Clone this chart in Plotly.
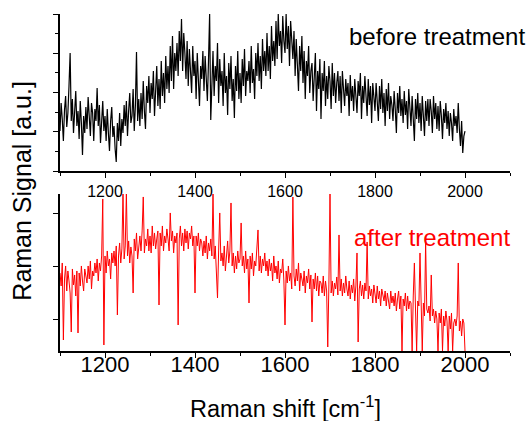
import plotly.graph_objects as go
from plotly.subplots import make_subplots

# Raman shift grid, cm^-1 (1100 ... 2000, 2.5 steps)
shift = [1100 + 2.5 * i for i in range(361)]

# signal before treatment (a.u.)
before = [
    40, 68, 52, 30, 61, 75, 44, 58, 85, 118, 50, 72, 38, 66, 80, 45,
    60, 32, 70, 48, 16, 55, 38, 64, 42, 74, 50, 35, 68, 58, 30, 62,
    50, 83, 45, 66, 28, 58, 70, 40, 55, 30, 62, 38, 20, 50, 64, 34,
    45, 22, 9, 48, 30, 58, 25, 52, 38, 66, 45, 70, 35, 60, 78, 48,
    55, 82, 40, 65, 119, 50, 72, 45, 78, 52, 90, 60, 42, 85, 68, 95,
    58, 88, 72, 100, 55, 80, 105, 65, 92, 62, 110, 75, 98, 68, 115, 82,
    105, 78, 125, 90, 135, 82, 118, 100, 128, 95, 140, 110, 152, 100, 138, 118,
    92, 130, 85, 122, 105, 78, 125, 95, 110, 72, 118, 88, 65, 105, 92, 120,
    80, 115, 95, 70, 110, 157, 51, 98, 120, 75, 105, 90, 128, 68, 112, 85,
    100, 65, 118, 78, 95, 56, 108, 82, 115, 70, 92, 53, 105, 80, 120, 72,
    98, 68, 112, 85, 122, 75, 100, 90, 110, 78, 125, 88, 102, 72, 118, 95,
    128, 90, 115, 82, 132, 100, 120, 95, 138, 100, 125, 92, 145, 110, 130, 105,
    150, 112, 157, 125, 140, 108, 155, 130, 118, 157, 122, 145, 105, 150, 128, 112,
    140, 95, 132, 110, 80, 125, 100, 135, 88, 120, 72, 110, 95, 125, 78, 100,
    108, 70, 95, 118, 60, 100, 82, 112, 52, 98, 80, 110, 65, 95, 72, 105,
    90, 62, 108, 75, 98, 68, 88, 100, 70, 95, 58, 100, 82, 65, 92, 75,
    88, 55, 96, 70, 85, 60, 92, 72, 58, 90, 75, 98, 52, 85, 68, 95,
    80, 55, 92, 66, 85, 48, 88, 72, 60, 88, 70, 50, 85, 62, 92, 58,
    78, 45, 82, 60, 88, 52, 75, 66, 50, 80, 62, 38, 78, 58, 85, 55,
    72, 48, 80, 56, 70, 42, 82, 60, 45, 75, 58, 30, 72, 52, 78, 48,
    68, 40, 75, 55, 35, 70, 50, 72, 45, 72, 60, 38, 75, 52, 68, 42,
    65, 40, 70, 55, 32, 62, 48, 68, 42, 60, 35, 58, 48, 30, 62, 45,
    55, 38, 68, 42, 25, 50, 18, 35, 40,
]

# signal after treatment (a.u.)
after = [
    78, 65, 88, 11, 72, 85, 60, 80, 70, 58, 19, 82, 66, 76, 55, 80,
    18, 78, 65, 85, 70, 60, 82, 72, 68, 85, 72, 90, 62, 80, 75, 88,
    78, 92, 70, 88, 80, 95, 152, 6, 95, 78, 100, 85, 92, 72, 98, 88,
    100, 85, 105, 36, 95, 108, 88, 102, 158, 92, 105, 158, 95, 110, 88, 104,
    95, 58, 112, 100, 118, 92, 108, 115, 100, 120, 154, 98, 112, 105, 122, 100,
    115, 98, 125, 105, 118, 102, 112, 120, 46, 118, 105, 125, 100, 115, 108, 122,
    112, 100, 138, 110, 120, 98, 115, 108, 118, 26, 112, 125, 105, 118, 100, 122,
    108, 120, 102, 118, 112, 125, 105, 115, 58, 115, 105, 118, 100, 112, 108, 95,
    110, 98, 115, 92, 108, 100, 112, 95, 157, 92, 105, 85, 53, 100, 138, 90,
    98, 85, 105, 80, 95, 110, 88, 100, 148, 85, 98, 78, 95, 82, 100, 88,
    92, 128, 85, 95, 78, 100, 82, 92, 48, 95, 82, 98, 75, 90, 85, 100,
    121, 80, 95, 78, 92, 85, 98, 80, 90, 75, 92, 80, 88, 70, 95, 78,
    85, 72, 90, 68, 82, 78, 92, 70, 26, 80, 68, 85, 70, 78, 62, 154,
    75, 65, 82, 70, 88, 60, 78, 72, 65, 80, 58, 75, 68, 82, 62, 76,
    29, 72, 62, 78, 60, 75, 55, 70, 68, 58, 75, 55, 70, 60, 4, 66,
    157, 58, 70, 55, 68, 62, 74, 56, 116, 60, 72, 55, 68, 58, 75, 62,
    55, 70, 52, 66, 58, 72, 50, 65, 98, 9, 62, 70, 55, 66, 52, 68,
    60, 109, 52, 65, 55, 62, 48, 66, 58, 48, 65, 52, 60, 45, 62, 55,
    50, 60, 45, 58, 52, 42, 60, 48, 55, 45, 58, 40, 52, 60, 42, 55,
    0, 52, 45, 58, 40, 55, 42, 50, 48, 0, 55, 88, 42, 0, 50, 45,
    98, 40, 0, 48, 35, 109, 42, 38, 45, 30, 76, 35, 42, 28, 40, 32,
    0, 38, 28, 42, 0, 35, 25, 40, 30, 0, 35, 22, 38, 0, 28, 32,
    25, 35, 88, 20, 30, 15, 32, 28, 0,
]

font = "Liberation Sans, Arial, sans-serif"

fig = make_subplots(rows=2, cols=1, vertical_spacing=0.068)

fig.add_trace(go.Scatter(x=shift, y=before, mode="lines",
                         line=dict(color="black", width=1.2)), row=1, col=1)
fig.add_trace(go.Scatter(x=shift, y=after, mode="lines",
                         line=dict(color="red", width=1)), row=2, col=1)

fig.update_xaxes(range=[1100, 2100], showline=True, linecolor="black", linewidth=1.5,
                 ticks="outside", ticklen=5, tickcolor="black", tick0=1200, dtick=200,
                 minor=dict(ticks="outside", ticklen=3, tickcolor="black", dtick=100, tick0=1100),
                 showgrid=False, zeroline=False)
fig.update_xaxes(tickfont=dict(family=font, size=16, color="black"), row=1, col=1)
fig.update_xaxes(tickfont=dict(family=font, size=22, color="black"),
                 ticklabelstandoff=-12, row=2, col=1)

fig.update_yaxes(showline=True, linecolor="black", linewidth=1.5, showgrid=False,
                 zeroline=False, showticklabels=False, ticks="outside",
                 ticklen=5, tickcolor="black")
fig.update_yaxes(range=[0, 157], tick0=0, dtick=39.25,
                 minor=dict(ticks="outside", ticklen=3, tickcolor="black", dtick=19.625, tick0=0),
                 row=1, col=1)
fig.update_yaxes(range=[0, 157], tick0=31, dtick=53, row=2, col=1)

fig.update_layout(
    width=527, height=421,
    margin=dict(l=60, r=17, t=14, b=70),
    paper_bgcolor="white", plot_bgcolor="white",
    showlegend=False,
    font=dict(family=font, color="black"),
    annotations=[
        dict(text="before treatment", xref="x", yref="y", x=1737, y=135,
             xanchor="left", yanchor="middle", showarrow=False,
             font=dict(family=font, size=24, color="black")),
        dict(text="after treatment", xref="x2", yref="y2", x=1748, y=113,
             xanchor="left", yanchor="middle", showarrow=False,
             font=dict(family=font, size=24, color="red")),
        dict(text="Raman Signal [a.u.]", xref="paper", yref="paper", x=-0.085, y=0.475,
             textangle=-90, xanchor="center", yanchor="middle", showarrow=False,
             font=dict(family=font, size=25, color="black")),
        dict(text="Raman shift [cm<sup>-1</sup>]", xref="paper", yref="paper", x=0.5, y=-0.165,
             xanchor="center", yanchor="middle", showarrow=False,
             font=dict(family=font, size=23.5, color="black")),
    ],
)

# drop the default page margin so the figure sits at the window's corner
fig.write_html("out.html", config={"displayModeBar": False},
               post_script="document.body.style.margin='0';document.body.style.overflow='hidden';")
